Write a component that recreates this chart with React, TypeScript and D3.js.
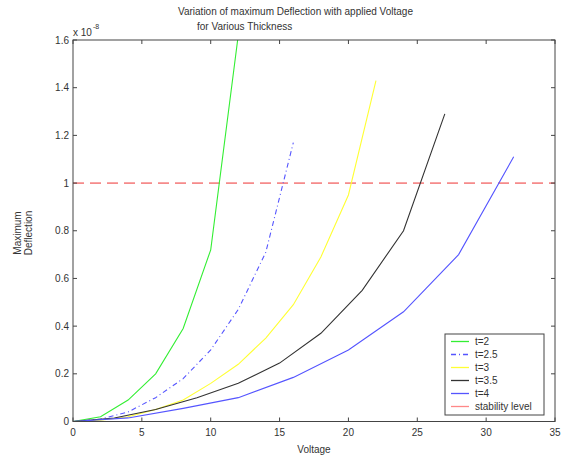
import React from "react";
import * as d3 from "d3";

const W = 562;
const H = 460;

const titleLines = ["Variation of maximum Deflection with applied Voltage", "for Various Thickness"];
const xTicks = [0, 5, 10, 15, 20, 25, 30, 35];
const yTicks = [0, 0.2, 0.4, 0.6, 0.8, 1, 1.2, 1.4, 1.6];

const v2 = [0, 2, 4, 6, 8, 10, 12];
const d2 = [0, 0.02, 0.09, 0.2, 0.39, 0.72, 1.62];
const v25 = [0, 2, 4, 6, 8, 10, 12, 14, 16];
const d25 = [0, 0.01, 0.04, 0.1, 0.18, 0.3, 0.47, 0.71, 1.17];
const v3 = [0, 2, 4, 6, 8, 10, 12, 14, 16, 18, 20, 22];
const d3v = [0, 0.005, 0.02, 0.05, 0.09, 0.16, 0.24, 0.35, 0.49, 0.69, 0.95, 1.43];
const v35 = [0, 3, 6, 9, 12, 15, 18, 21, 24, 27];
const d35 = [0, 0.015, 0.05, 0.1, 0.16, 0.245, 0.37, 0.55, 0.8, 1.29];
const v4 = [0, 4, 8, 12, 16, 20, 24, 28, 32];
const d4 = [0, 0.015, 0.055, 0.1, 0.185, 0.3, 0.46, 0.7, 1.11];
const stability = 1;

const series = [
  { name: "t=2", xs: v2, ys: d2, color: "#33ee33", dash: "" },
  { name: "t=2.5", xs: v25, ys: d25, color: "#5555ff", dash: "5,3,1,3" },
  { name: "t=3", xs: v3, ys: d3v, color: "#ffff33", dash: "" },
  { name: "t=3.5", xs: v35, ys: d35, color: "#333333", dash: "" },
  { name: "t=4", xs: v4, ys: d4, color: "#5555ff", dash: "" },
];

const M = { left: 73, top: 40, right: 555, bottom: 421.5 };

export default function App() {
  const x = d3.scaleLinear().domain([0, 35]).range([M.left, M.right]);
  const y = d3.scaleLinear().domain([0, 1.6]).range([M.bottom, M.top]);
  const line = d3
    .line<[number, number]>()
    .x((d) => x(d[0]))
    .y((d) => y(d[1]));
  const font = "'Liberation Sans', Arial, sans-serif";
  const tickLen = 4;
  const axisColor = "#444";
  const textColor = "#333";

  const legendItems = [
    ...series.map((s) => ({ name: s.name, color: s.color, dash: s.dash })),
    { name: "stability level", color: "#ff8888", dash: "" },
  ];

  return (
    <svg width={W} height={H} style={{ position: "absolute", left: 0, top: 0 }} fontFamily={font}>
      <rect x={0} y={0} width={W} height={H} fill="#fff" />
      <defs>
        <clipPath id="plotclip">
          <rect x={M.left} y={M.top} width={M.right - M.left} height={M.bottom - M.top} />
        </clipPath>
      </defs>
      {/* title */}
      <text x={178} y={15} fontSize={10} fill={textColor}>{titleLines[0]}</text>
      <text x={197} y={30} fontSize={10} fill={textColor}>{titleLines[1]}</text>
      {/* exponent */}
      <text x={73} y={36} fontSize={10} fill={textColor}>x 10</text>
      <text x={93} y={29} fontSize={7} fill={textColor}>-8</text>
      {/* series */}
      <g clipPath="url(#plotclip)">
        <line
          x1={x(0)}
          x2={x(35)}
          y1={y(stability)}
          y2={y(stability)}
          stroke="#ee3333"
          strokeWidth={1}
          strokeDasharray="11,6"
        />
        {series.map((s) => (
          <path
            key={s.name}
            d={line(s.xs.map((v, i) => [v, s.ys[i]] as [number, number])) || ""}
            fill="none"
            stroke={s.color}
            strokeWidth={1.1}
            strokeDasharray={s.dash || undefined}
          />
        ))}
      </g>
      {/* box */}
      <rect
        x={M.left}
        y={M.top}
        width={M.right - M.left}
        height={M.bottom - M.top}
        fill="none"
        stroke={axisColor}
        strokeWidth={1}
      />
      {/* x ticks */}
      {xTicks.map((t) => (
        <g key={"x" + t}>
          <line x1={x(t)} x2={x(t)} y1={M.bottom} y2={M.bottom - tickLen} stroke={axisColor} />
          <line x1={x(t)} x2={x(t)} y1={M.top} y2={M.top + tickLen} stroke={axisColor} />
          <text x={x(t)} y={M.bottom + 14} fontSize={10} textAnchor="middle" fill={textColor}>
            {t}
          </text>
        </g>
      ))}
      {/* y ticks */}
      {yTicks.map((t) => (
        <g key={"y" + t}>
          <line x1={M.left} x2={M.left + tickLen} y1={y(t)} y2={y(t)} stroke={axisColor} />
          <line x1={M.right} x2={M.right - tickLen} y1={y(t)} y2={y(t)} stroke={axisColor} />
          <text x={M.left - 4} y={y(t) + 3.5} fontSize={10} textAnchor="end" fill={textColor}>
            {t}
          </text>
        </g>
      ))}
      {/* axis labels */}
      <text x={314} y={453} fontSize={10} textAnchor="middle" fill={textColor}>Voltage</text>
      <g transform="translate(21,233) rotate(-90)">
        <text x={0} y={0} fontSize={10} textAnchor="middle" fill={textColor}>Maximum</text>
        <text x={0} y={11} fontSize={10} textAnchor="middle" fill={textColor}>Deflection</text>
      </g>
      {/* legend */}
      <rect x={445} y={334} width={99} height={81} fill="#fff" stroke={axisColor} strokeWidth={1} />
      {legendItems.map((it, i) => {
        const ly = 341.5 + i * 13;
        return (
          <g key={it.name}>
            <line
              x1={451}
              x2={469}
              y1={ly}
              y2={ly}
              stroke={it.color}
              strokeWidth={1.3}
              strokeDasharray={it.dash ? "5,3,1,3" : undefined}
            />
            <text x={475} y={ly + 3.5} fontSize={10} fill={textColor}>{it.name}</text>
          </g>
        );
      })}
    </svg>
  );
}
